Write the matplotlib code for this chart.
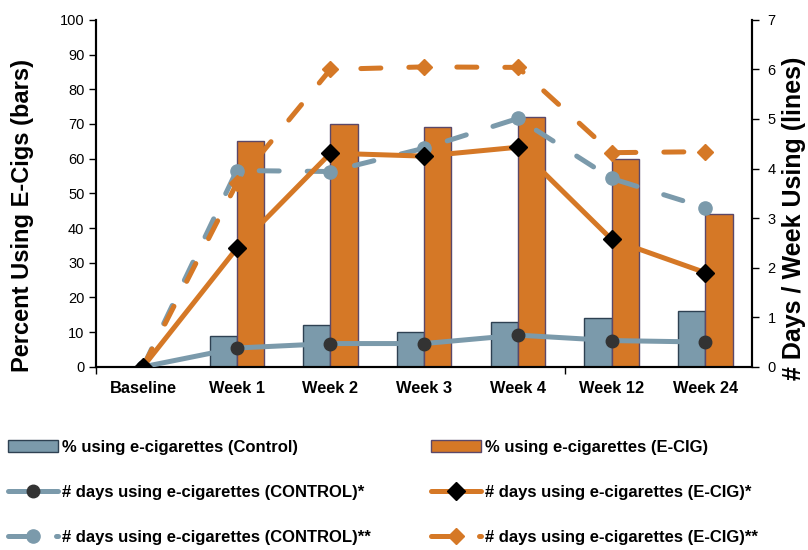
import matplotlib
matplotlib.use("Agg")
import matplotlib.pyplot as plt
import numpy as np

plt.rcParams['font.family'] = ['Liberation Sans', 'DejaVu Sans']

# categories and values
categories = ["Baseline", "Week 1", "Week 2", "Week 3", "Week 4", "Week 12", "Week 24"]
pct_control = [0, 9, 12, 10, 13, 14, 16]
pct_ecig = [0, 65, 70, 69, 72, 60, 44]
days_control_1 = [0, 0.38, 0.47, 0.47, 0.64, 0.53, 0.50]
days_ecig_1 = [0, 2.39, 4.31, 4.25, 4.43, 2.57, 1.90]
days_control_2 = [0, 3.96, 3.94, 4.41, 5.01, 3.80, 3.21]
days_ecig_2 = [0, 3.70, 6.00, 6.05, 6.04, 4.32, 4.34]

blue = "#7b9aab"
orange = "#d57826"

fig = plt.figure(figsize=(8.08, 5.5), dpi=100)
ax = fig.add_axes([0.119, 0.333, 0.812, 0.631])
ax2 = ax.twinx()

x = np.arange(len(categories))
w = 0.29
b1 = ax.bar(x - w / 2, pct_control, w, color=blue, edgecolor="#2e4152", linewidth=1,
            label="% using e-cigarettes (Control)")
b2 = ax.bar(x + w / 2, pct_ecig, w, color=orange, edgecolor="#5b4869", linewidth=1,
            label="% using e-cigarettes (E-CIG)")

ax.set_ylim(0, 100)
ax.set_yticks(range(0, 101, 10))
ax.set_xlim(-0.5, 6.5)
ax.set_xticks(x)
ax.set_xticklabels(categories, fontweight="bold", fontsize=11.8)
ax.tick_params(axis="x", which="major", length=0, pad=10)
ax.set_xticks([-0.5, 4.5], minor=True)
ax.tick_params(axis="x", which="minor", length=5, width=1, direction="out")
ax.tick_params(axis="y", labelsize=10.5, length=5, width=1)

ax2.set_ylim(0, 7)
ax2.set_yticks(range(0, 8))
ax2.tick_params(axis="y", labelsize=10.5, length=5, width=1, pad=6)

# axis titles placed like the reference (both sit a bit below the axis middle)
fig.text(23 / 808, 1 - 215 / 550, "Percent Using E-Cigs (bars)", rotation=90,
         ha="center", va="center", fontsize=17, fontweight="bold")
fig.text(794 / 808, 1 - 218 / 550, "# Days / Week Using (lines)", rotation=90,
         ha="center", va="center", fontsize=18, fontweight="bold")

for a in (ax, ax2):
    a.spines["top"].set_visible(False)
    for s in ("left", "right", "bottom"):
        a.spines[s].set_linewidth(1.5)

lw = 3.6
dash = (4, 5.6)
l3, = ax2.plot(x, days_control_2, color=blue, lw=lw, dashes=dash,
               dash_capstyle="round", marker="o", ms=9.5, mfc=blue, mec=blue,
               label="# days using e-cigarettes (CONTROL)**", zorder=3)
l4, = ax2.plot(x, days_ecig_2, color=orange, lw=lw, dashes=dash,
               dash_capstyle="round", marker="D", ms=8, mfc=orange, mec=orange,
               label="# days using e-cigarettes (E-CIG)**", zorder=3)
l1, = ax2.plot(x, days_control_1, color=blue, lw=lw, solid_capstyle="round",
               marker="o", ms=9, mfc="#333333", mec="#333333",
               label="# days using e-cigarettes (CONTROL)*", zorder=4)
l2, = ax2.plot(x, days_ecig_1, color=orange, lw=lw, solid_capstyle="round",
               marker="D", ms=9, mfc="black", mec="black",
               label="# days using e-cigarettes (E-CIG)*", zorder=4)

handles = [b1, l1, l3, b2, l2, l4]
fig.legend(handles, [h.get_label() for h in handles], ncol=2,
           loc="upper left", bbox_to_anchor=(8 / 808, 1 - 440 / 550), frameon=False,
           prop={"weight": "bold", "size": 12}, handlelength=3.0,
           handletextpad=0.25, labelspacing=1.8, columnspacing=3.6,
           borderaxespad=0, borderpad=0)

fig.savefig("out.png", dpi=100)
